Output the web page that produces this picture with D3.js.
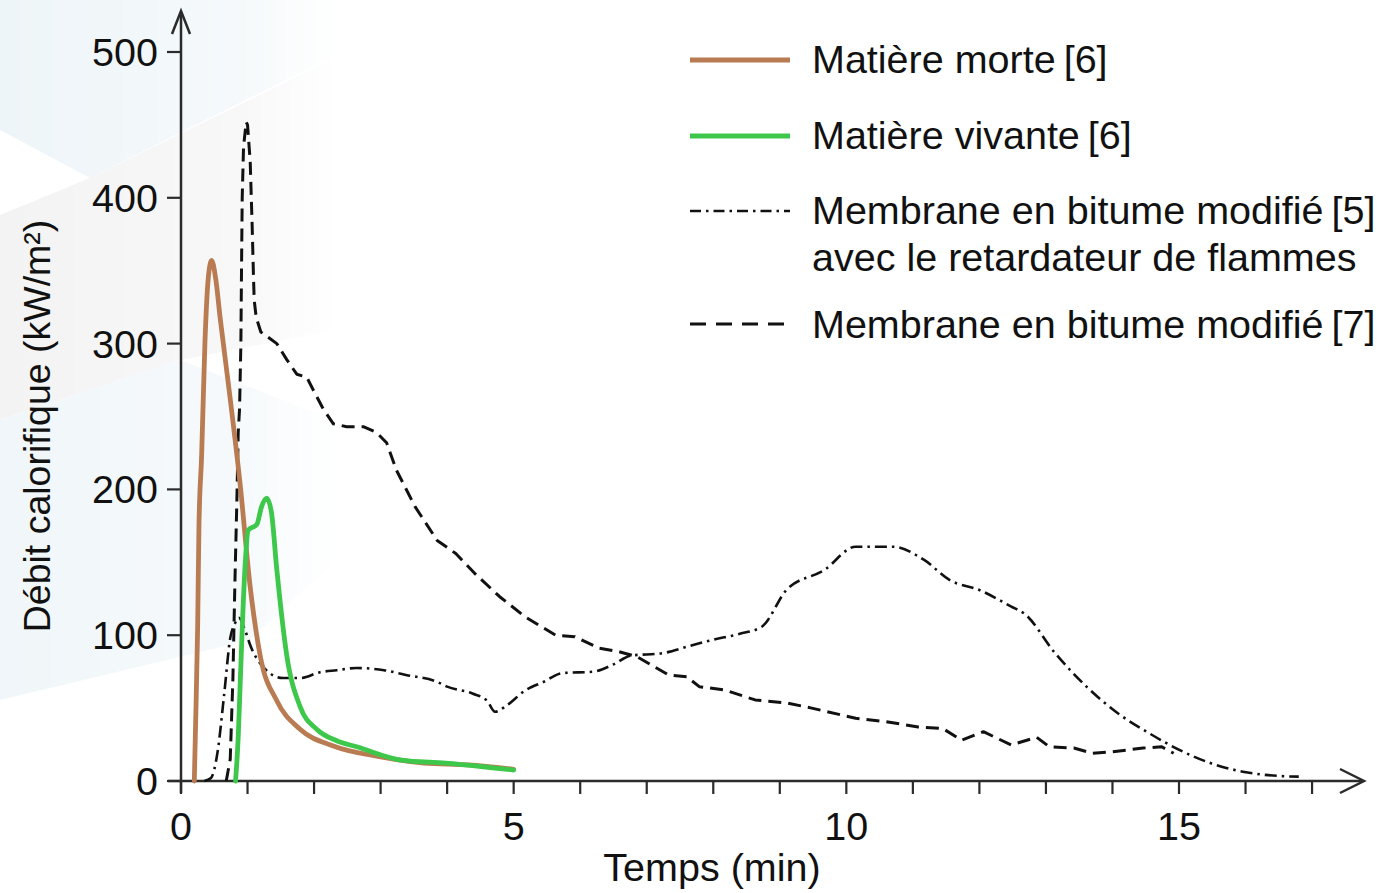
<!DOCTYPE html>
<html><head><meta charset="utf-8">
<script src="https://cdn.jsdelivr.net/npm/d3@7"></script>
<style>html,body{margin:0;padding:0;background:#fff;}svg{display:block;}</style>
</head><body>
<svg id="chart" width="1381" height="893"></svg>
<script>
// ---- Data ----
const xTicks = [0,1,2,3,4,5,6,7,8,9,10,11,12,13,14,15,16,17];
const xTickLabels = [0,5,10,15];
const yTicks = [0,100,200,300,400,500];

const morteX = [0.2,0.22,0.25,0.27,0.31,0.36,0.41,0.46,0.52,0.59,0.74,0.89,1.04,1.19,1.44,1.79,2.29,2.98,3.65,4.32,5.0];
const morteY = [0,40,105,175,223,301,345,357,345,317,262,203,133,86,55,35.5,24,16.7,12.3,11,8];

const vivanteX = [0.82,0.86,0.9,0.96,1.01,1.14,1.21,1.29,1.36,1.44,1.59,1.79,2.04,2.34,2.64,3.31,3.98,5.0];
const vivanteY = [0,30,80,145,172,176,188,194,184,145,86,51,35.5,27.6,23.5,14.4,12.3,7.5];

const retardX = [0.35,0.45,0.55,0.65,0.74,0.81,0.87,0.95,1.05,1.24,1.53,1.79,2.09,2.34,2.64,3.05,3.38,3.85,4.0,4.38,4.6,4.72,4.9,5.17,5.45,5.73,6.2,6.5,6.76,7.23,7.6,7.98,8.4,8.73,9.1,9.67,10.14,10.7,11.17,11.55,12.0,12.48,12.67,13.14,13.61,14.08,14.55,15.02,15.49,15.96,16.52,16.8];
const retardY = [0,2,20,60,98,108,112,105,92,78,70.6,70.6,74.6,76,77.5,76,72.7,68,64.7,60,55,47.5,52,62,68,74,75,80,86,87.6,92,96.7,101,105.8,131,144.7,160.7,160.7,151.6,137.9,131,119.6,115,87.6,64.7,46.5,32.8,21,12,6.4,3.4,3];

const bitumeX = [0.68,0.74,0.78,0.81,0.84,0.86,0.88,0.9,0.91,0.92,0.94,0.98,1.0,1.04,1.07,1.09,1.1,1.13,1.2,1.44,1.59,1.74,1.89,1.99,2.14,2.29,2.49,2.74,2.94,3.09,3.24,3.52,3.85,4.13,4.41,4.79,5.17,5.63,5.92,6.29,6.58,6.85,7.33,7.6,7.79,8.17,8.63,9.11,9.48,10.14,10.6,11.08,11.45,11.73,12.06,12.48,12.86,13.05,13.42,13.7,13.99,14.46,14.74,14.92];
const bitumeY = [0,15,70,136,193,239,255,300,353,400,435,452,450,425,380,345,330,318,308,300,289,279,277,268,255,245,243,243,239,232,213,188,165,156,142.6,126.4,112.7,100,99,91,88.7,85.3,72.7,71.5,64.7,62.4,55.6,53.5,50,43,40.7,37,36,28,33.8,24.7,30,23.5,22.6,19,20,22.6,23.5,19];

const legendLabels = ["Matière morte","Matière vivante","Membrane en bitume modifié","Membrane en bitume modifié"];
const legendRefs = ["[6]","[6]","[5]","[7]"];
const legendExtra = ["","","avec le retardateur de flammes",""];
const yTitle = "Débit calorifique (kW/m²)";
const xTitle = "Temps (min)";

// ---- Chart ----
const svg = d3.select("#chart");
const FONT = "'Liberation Sans', Arial, Helvetica, sans-serif";

// faint background decoration
const defs = svg.append("defs");
const grad = defs.append("linearGradient").attr("id","fade").attr("x1","0").attr("x2","1").attr("y1","0").attr("y2","0");
grad.append("stop").attr("offset","0").attr("stop-color","#fff").attr("stop-opacity",1);
grad.append("stop").attr("offset","0.7").attr("stop-color","#fff").attr("stop-opacity",0.6);
grad.append("stop").attr("offset","1").attr("stop-color","#fff").attr("stop-opacity",0);
const mask = defs.append("mask").attr("id","bgmask");
mask.append("rect").attr("x",0).attr("y",0).attr("width",340).attr("height",893).attr("fill","url(#fade)");

const bg = svg.append("g").attr("mask","url(#bgmask)");
bg.append("polygon").attr("points","0,0 335,0 335,55 90,178 0,130").attr("fill","#eef5f8");
bg.append("polygon").attr("points","0,215 90,178 335,58 335,330 180,360 0,420").attr("fill","#f4f3f3");
bg.append("polygon").attr("points","0,420 180,360 335,420 335,560 250,640 0,700").attr("fill","#f0f6f9");

const x = d3.scaleLinear().domain([0,15]).range([181,1179]);
const y = d3.scaleLinear().domain([0,500]).range([781,52]);
const axisColor = "#2b2b2b";

// axes lines with arrows
svg.append("line").attr("x1",168).attr("x2",1362).attr("y1",y(0)).attr("y2",y(0)).attr("stroke",axisColor).attr("stroke-width",2.5);
svg.append("path").attr("d","M1340,769 L1364,781 L1340,793").attr("fill","none").attr("stroke",axisColor).attr("stroke-width",2.5);
svg.append("line").attr("x1",x(0)).attr("x2",x(0)).attr("y1",y(0)+12).attr("y2",12).attr("stroke",axisColor).attr("stroke-width",2.5);
svg.append("path").attr("d","M172,34 L181,11 L190,34").attr("fill","none").attr("stroke",axisColor).attr("stroke-width",2.5);

// x ticks
svg.append("g").selectAll("line").data(xTicks).join("line")
  .attr("x1",d=>x(d)).attr("x2",d=>x(d)).attr("y1",y(0)).attr("y2",y(0)+13)
  .attr("stroke",axisColor).attr("stroke-width",2.2);
svg.append("g").selectAll("text").data(xTickLabels).join("text")
  .attr("x",d=>x(d)).attr("y",840).attr("text-anchor","middle")
  .attr("font-family",FONT).attr("font-size",39.5).attr("fill","#111").text(d=>d);

// y ticks
svg.append("g").selectAll("line").data(yTicks).join("line")
  .attr("x1",x(0)-14).attr("x2",x(0)).attr("y1",d=>y(d)).attr("y2",d=>y(d))
  .attr("stroke",axisColor).attr("stroke-width",2.2);
svg.append("g").selectAll("text").data(yTicks).join("text")
  .attr("x",158).attr("y",d=>y(d)+14).attr("text-anchor","end")
  .attr("font-family",FONT).attr("font-size",39.5).attr("fill","#111").text(d=>d);

// titles
svg.append("text").attr("transform","translate(50,426) rotate(-90)").attr("text-anchor","middle")
  .attr("font-family",FONT).attr("font-size",37.5).attr("fill","#111").text(yTitle);
svg.append("text").attr("x",712).attr("y",881).attr("text-anchor","middle")
  .attr("font-family",FONT).attr("font-size",39.5).attr("fill","#111").text(xTitle);

// series
const line = d3.line().x(d=>x(d[0])).y(d=>y(d[1])).curve(d3.curveMonotoneX);
const lineLin = d3.line().x(d=>x(d[0])).y(d=>y(d[1])).curve(d3.curveLinear);
const zipXY = (a,b)=>a.map((v,i)=>[v,b[i]]);

const series = [
  {data: zipXY(bitumeX,bitumeY), color:"#111", width:3, dash:"13,7", gen: lineLin},
  {data: zipXY(retardX,retardY), color:"#111", width:2.6, dash:"12,5,2.5,5", gen: line},
  {data: zipXY(morteX,morteY), color:"#b97b52", width:4.8, dash:null, gen: line},
  {data: zipXY(vivanteX,vivanteY), color:"#3ec84b", width:4.8, dash:null, gen: line}
];
series.forEach(s=>{
  svg.append("path").attr("d",s.gen(s.data)).attr("fill","none")
    .attr("stroke",s.color).attr("stroke-width",s.width)
    .attr("stroke-dasharray",s.dash).attr("stroke-linejoin","round").attr("stroke-linecap", s.dash? "butt":"round");
});

// legend
const legendStyles = [
  {color:"#b97b52", width:5, dash:null, ly:60, ty:73},
  {color:"#3ec84b", width:5, dash:null, ly:136, ty:149},
  {color:"#111", width:2.6, dash:"11,5,2.5,5", ly:211, ty:224},
  {color:"#111", width:2.8, dash:"16,10", ly:324, ty:338}
];
const lg = svg.append("g");
legendLabels.forEach((lab,i)=>{
  const st = legendStyles[i];
  lg.append("line").attr("x1",690).attr("x2",790).attr("y1",st.ly).attr("y2",st.ly)
    .attr("stroke",st.color).attr("stroke-width",st.width).attr("stroke-dasharray",st.dash);
  const t = lg.append("text").attr("x",812).attr("y",st.ty).attr("font-family",FONT).attr("font-size",39.5).attr("fill","#111");
  t.append("tspan").text(lab);
  t.append("tspan").attr("dx",8).text(legendRefs[i]);
  if (legendExtra[i]) {
    lg.append("text").attr("x",812).attr("y",st.ty+47).attr("font-family",FONT).attr("font-size",39.5).attr("fill","#111").text(legendExtra[i]);
  }
});
</script>
</body></html>
